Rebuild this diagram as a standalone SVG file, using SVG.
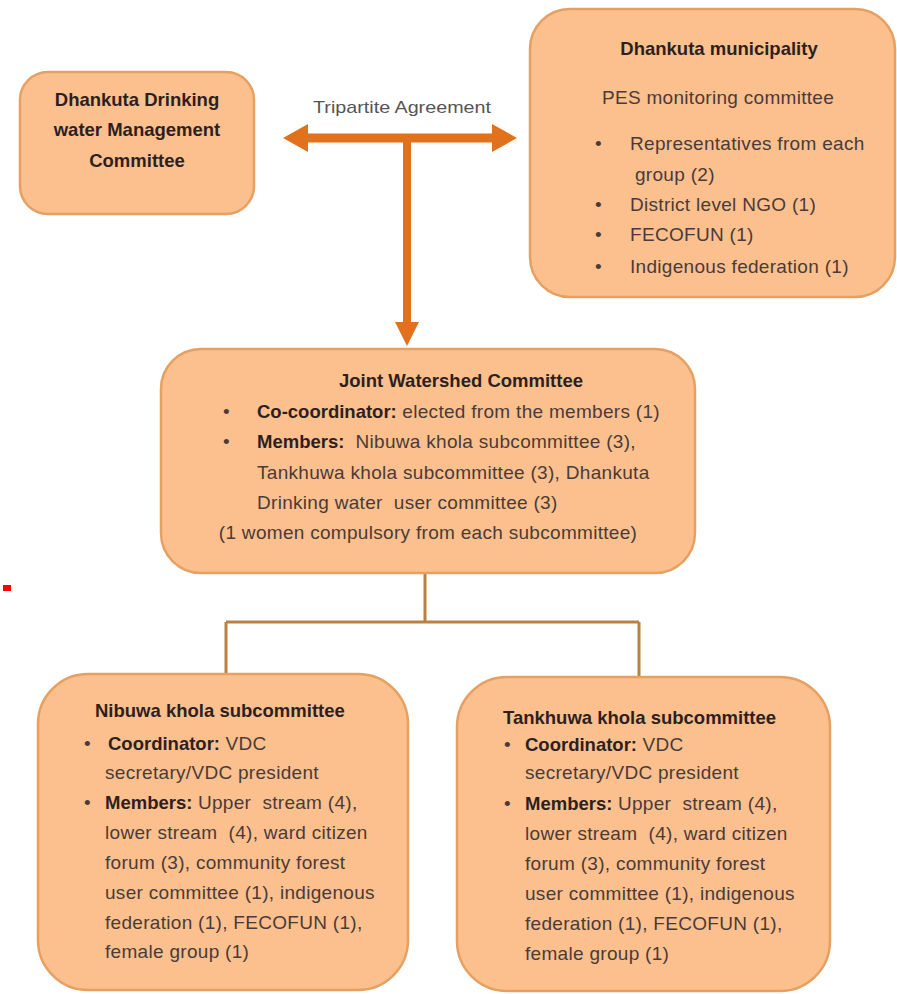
<svg xmlns="http://www.w3.org/2000/svg" width="897" height="994" viewBox="0 0 897 994">
<defs>
<style>
.box{fill:#FBC08E;stroke:#E6A062;stroke-width:2.5}
.t{font-family:"Liberation Sans",Arial,sans-serif;font-size:19px;letter-spacing:0.3px;fill:#4a3b38;white-space:pre}
.b{font-weight:bold;fill:#2e1f1f;font-size:18.5px;letter-spacing:0}
.c{text-anchor:middle}
.arr{fill:#E2711D}
.conn{fill:none;stroke:#B98240;stroke-width:3}
.lbl{font-family:"Liberation Sans",Arial,sans-serif;font-size:17px;fill:#555555}
</style>
</defs>
<rect width="897" height="994" fill="#ffffff"/>
<g id="connectors">
<rect class="arr" x="300" y="133.5" width="200" height="9"/>
<polygon class="arr" points="283,138 308,124 308,152"/>
<polygon class="arr" points="517,138 492,124 492,152"/>
<rect class="arr" x="403" y="138" width="8" height="186"/>
<polygon class="arr" points="395,322 419,322 407,346"/>
<text class="lbl" x="313" y="113" textLength="178" lengthAdjust="spacingAndGlyphs">Tripartite Agreement</text>
<path class="conn" d="M425,573 V622 M226,622 H639 M226,622 V674 M639,622 V677"/>
</g>
<g id="drinking-water-committee">
<rect class="box" x="20" y="72" width="234" height="142" rx="28"/>
<text class="t b c" x="137" y="106">Dhankuta Drinking</text>
<text class="t b c" x="137" y="136">water Management</text>
<text class="t b c" x="137" y="167">Committee</text>
</g>
<g id="municipality">
<rect class="box" x="530" y="9" width="365" height="288" rx="40"/>
<text class="t b c" x="719" y="55">Dhankuta municipality</text>
<text class="t c" x="718" y="104">PES monitoring committee</text>
<text class="t" x="595" y="150">•</text>
<text class="t" x="630" y="150">Representatives from each</text>
<text class="t" x="635" y="181">group (2)</text>
<text class="t" x="595" y="211">•</text>
<text class="t" x="630" y="211">District level NGO (1)</text>
<text class="t" x="595" y="241">•</text>
<text class="t" x="630" y="241">FECOFUN (1)</text>
<text class="t" x="595" y="273">•</text>
<text class="t" x="630" y="273">Indigenous federation (1)</text>
</g>
<g id="joint-watershed-committee">
<rect class="box" x="161" y="349" width="534" height="224" rx="40"/>
<text class="t b c" x="461" y="387">Joint Watershed Committee</text>
<text class="t" x="223" y="418">•</text>
<text class="t" x="257" y="418"><tspan class="b">Co-coordinator:</tspan> elected from the members (1)</text>
<text class="t" x="223" y="448">•</text>
<text class="t" x="257" y="448"><tspan class="b">Members:</tspan>  Nibuwa khola subcommittee (3),</text>
<text class="t" x="257" y="479">Tankhuwa khola subcommittee (3), Dhankuta</text>
<text class="t" x="257" y="509">Drinking water  user committee (3)</text>
<text class="t c" x="428" y="539">(1 women compulsory from each subcommittee)</text>
</g>
<g id="nibuwa-subcommittee">
<rect class="box" x="38" y="674" width="370" height="316" rx="50"/>
<text class="t b" x="95" y="717">Nibuwa khola subcommittee</text>
<text class="t" x="84" y="750">•</text>
<text class="t" x="108" y="750"><tspan class="b">Coordinator:</tspan> VDC</text>
<text class="t" x="105" y="779">secretary/VDC president</text>
<text class="t" x="84" y="809">•</text>
<text class="t" x="105" y="809"><tspan class="b">Members:</tspan> Upper  stream (4),</text>
<text class="t" x="105" y="839">lower stream  (4), ward citizen</text>
<text class="t" x="105" y="869">forum (3), community forest</text>
<text class="t" x="105" y="899">user committee (1), indigenous</text>
<text class="t" x="105" y="929">federation (1), FECOFUN (1),</text>
<text class="t" x="105" y="958">female group (1)</text>
</g>
<g id="tankhuwa-subcommittee">
<rect class="box" x="457" y="677" width="373" height="314" rx="50"/>
<text class="t b" x="503" y="724">Tankhuwa khola subcommittee</text>
<text class="t" x="504" y="751">•</text>
<text class="t" x="525" y="751"><tspan class="b">Coordinator:</tspan> VDC</text>
<text class="t" x="525" y="779">secretary/VDC president</text>
<text class="t" x="504" y="810">•</text>
<text class="t" x="525" y="810"><tspan class="b">Members:</tspan> Upper  stream (4),</text>
<text class="t" x="525" y="840">lower stream  (4), ward citizen</text>
<text class="t" x="525" y="870">forum (3), community forest</text>
<text class="t" x="525" y="900">user committee (1), indigenous</text>
<text class="t" x="525" y="930">federation (1), FECOFUN (1),</text>
<text class="t" x="525" y="960">female group (1)</text>
</g>
<rect x="3" y="585" width="8" height="6" fill="#FF0000"/>
</svg>
